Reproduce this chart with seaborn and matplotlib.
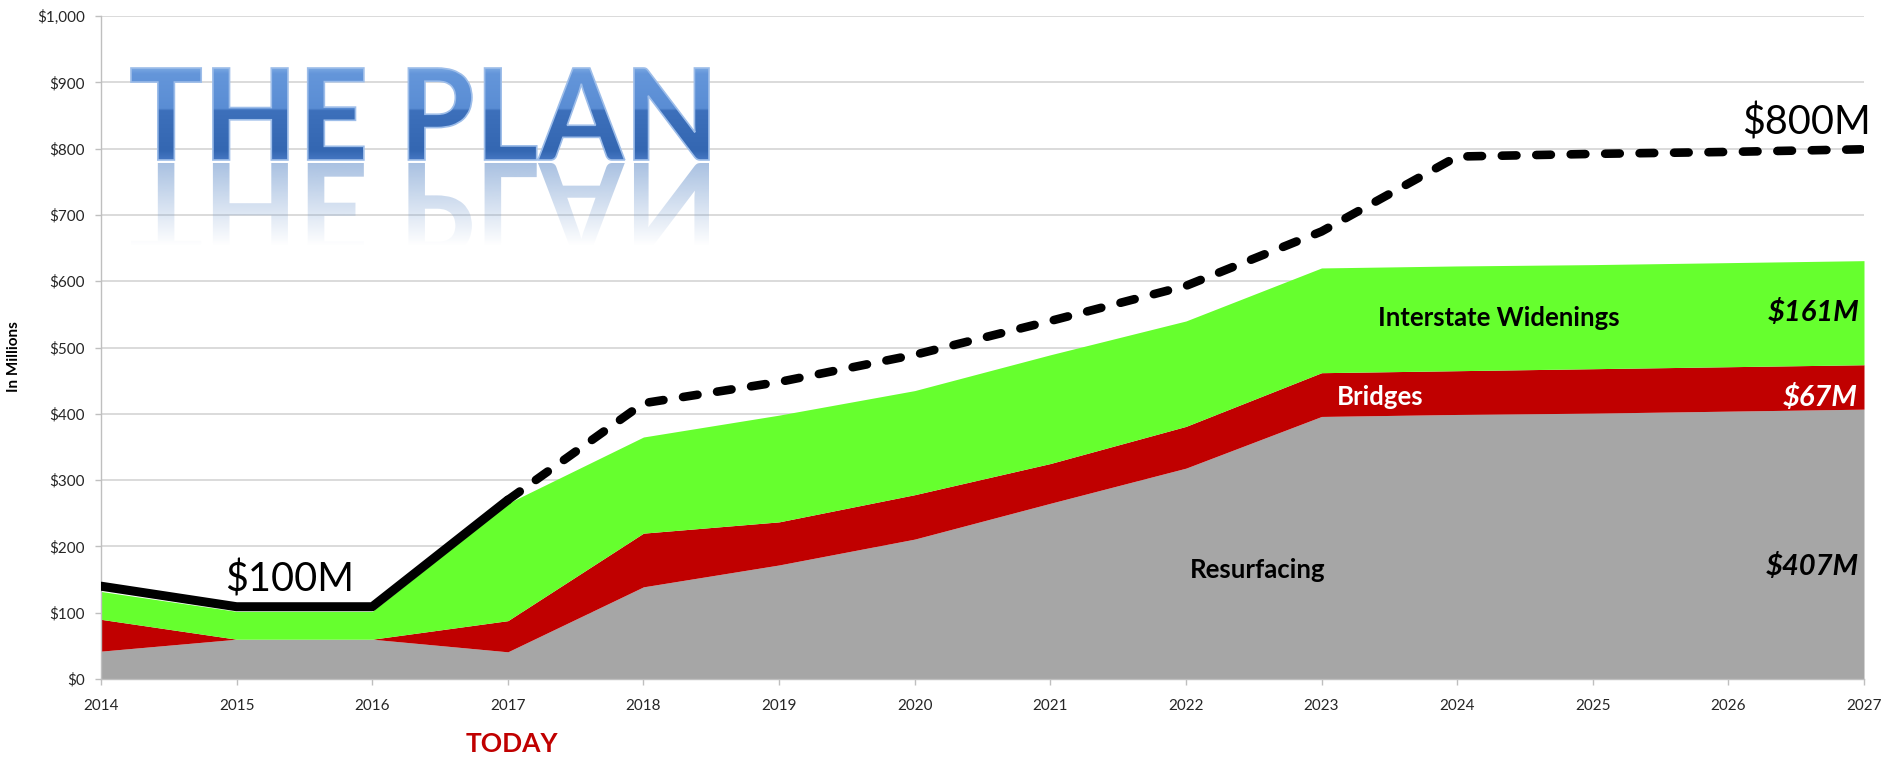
import numpy as np
import pandas as pd
import matplotlib
matplotlib.use("Agg")
import matplotlib.pyplot as plt
import seaborn as sns
from matplotlib.textpath import TextPath
from matplotlib.font_manager import FontProperties
from matplotlib.patches import PathPatch
from matplotlib.transforms import Affine2D
from matplotlib.colors import to_rgb
from matplotlib.ticker import FuncFormatter

# ---------------- data (in $ millions) ----------------
years = list(range(2014, 2028))
resurfacing = [42, 60, 60, 41, 139, 172, 211, 265, 318, 396, 399, 401, 404, 407]
bridges = [48, 0, 0, 47, 81, 65, 67, 60, 63, 66, 66, 67, 67, 67]
widenings = [42, 42, 42, 177, 145, 161, 157, 164, 159, 158, 158, 157, 157, 157]
total_plan = [140, 109, 109, 270, 416, 448, 489, 540, 593, 675, 788, 792, 795, 799]
y_ticks = list(range(0, 1001, 100))

series_names = ["Resurfacing", "Bridges", "Interstate Widenings"]
series_colors = ["#A6A6A6", "#C00000", "#66FF2E"]

df = pd.DataFrame({"year": years, "total": total_plan})
df_actual = df.iloc[:4]
df_planned = df.iloc[3:]

# ---------------- style ----------------
sns.set_theme(style="white")
plt.rcParams["font.family"] = ["Lato", "DejaVu Sans"]

W, H = 1883, 762
fig = plt.figure(figsize=(W / 100, H / 100), dpi=100)
L, R, T, B = 101, 1864, 16, 679
ax = fig.add_axes([L / W, 1 - B / H, (R - L) / W, (B - T) / H])

ax.stackplot(years, resurfacing, bridges, widenings,
             colors=series_colors, labels=series_names, linewidth=0, zorder=2)

sns.lineplot(data=df_actual, x="year", y="total", ax=ax, color="black",
             linewidth=6.5, solid_capstyle="round", solid_joinstyle="round",
             zorder=4, legend=False)
sns.lineplot(data=df_planned, x="year", y="total", ax=ax, color="black",
             linewidth=6.2, zorder=4, legend=False)
dash_line = ax.get_lines()[-1]
dash_line.set_dashes((1.7, 2.3))
dash_line.set_dash_capstyle("round")
dash_line.set_dash_joinstyle("round")

ax.set_xlim(2014, 2027)
ax.set_ylim(0, 1000)
ax.set_xticks(years)
ax.set_yticks(y_ticks)
ax.yaxis.set_major_formatter(FuncFormatter(lambda v, p: f"${v:,.0f}"))
ax.set_xlabel("")
ax.set_ylabel("")
ax.grid(axis="y", color="#D4D4D4", linewidth=1.2)
ax.grid(axis="x", visible=False)
ax.set_axisbelow(True)
for s in ["top", "right"]:
    ax.spines[s].set_visible(False)
for s in ["left", "bottom"]:
    ax.spines[s].set_color("#BFBFBF")
    ax.spines[s].set_linewidth(1.0)
ax.tick_params(axis="x", bottom=True, length=4.5, width=1, color="#BFBFBF",
               pad=10, labelsize=11, labelcolor="#262626")
ax.tick_params(axis="y", left=True, length=4.5, width=1, color="#BFBFBF",
               pad=7, labelsize=11, labelcolor="#262626")

# ---------------- annotations ----------------
ax.text(2015.39, 150, "$100M", fontsize=28.5, ha="center", va="center", color="black", zorder=6)
ax.text(2027.05, 840, "$800M", fontsize=28.5, ha="right", va="center", color="black",
        zorder=6, clip_on=False)
ax.text(2024.31, 544, "Interstate Widenings", fontsize=18.5, fontweight="bold",
        ha="center", va="center", color="black", zorder=6)
ax.text(2023.43, 425, "Bridges", fontsize=18.5, fontweight="bold",
        ha="center", va="center", color="white", zorder=6)
ax.text(2022.53, 164, "Resurfacing", fontsize=18.5, fontweight="bold",
        ha="center", va="center", color="black", zorder=6)
ax.text(2026.97, 553, "$161M", fontsize=21, fontweight="bold", fontstyle="italic",
        ha="right", va="center", color="black", zorder=6)
ax.text(2026.95, 424, "$67M", fontsize=21, fontweight="bold", fontstyle="italic",
        ha="right", va="center", color="white", zorder=6)
ax.text(2026.96, 170, "$407M", fontsize=21, fontweight="bold", fontstyle="italic",
        ha="right", va="center", color="black", zorder=6)
ax.text(2017.03, -98, "TODAY", fontsize=19, fontweight="bold", ha="center",
        va="center", color="#C00000", clip_on=False, zorder=6)
fig.text(14 / W, 1 - 357 / H, "In Millions", rotation=90, fontsize=11,
         fontweight="bold", ha="center", va="center", color="black")

# ---------------- "THE PLAN" title with gradient and reflection ----------------
ov = fig.add_axes([0, 0, 1, 1], zorder=10)
ov.set_xlim(0, W)
ov.set_ylim(H, 0)
ov.axis("off")
ov.patch.set_alpha(0)

tp = TextPath((0, 0), "THE PLAN", size=100,
              prop=FontProperties(family="Lato", weight="bold"))
bb = tp.get_extents()
x0, x1, ytop, ybase = 131, 709, 68, 160
sx = (x1 - x0) / bb.width
sy = (ybase - ytop) / bb.height
main_tr = Affine2D().translate(-bb.x0, -bb.y0).scale(sx, -sy).translate(x0, ybase)
refl_gap = 3
refl_tr = Affine2D().translate(-bb.x0, -bb.y0).scale(sx, sy).translate(x0, ybase + refl_gap)

main_path = main_tr.transform_path(tp)
refl_path = refl_tr.transform_path(tp)

n = 200
pos = np.linspace(0, 1, n)
stops = [(0.0, "#79A7E2"), (0.06, "#6496DA"), (0.44, "#5A8DD4"),
         (0.46, "#3D70BB"), (0.9, "#3467B2"), (1.0, "#4677C2")]
grad = np.zeros((n, 1, 4))
for ch in range(3):
    grad[:, 0, ch] = np.interp(pos, [s[0] for s in stops], [to_rgb(s[1])[ch] for s in stops])
grad[:, 0, 3] = 1.0

main_patch = PathPatch(main_path, facecolor="none", edgecolor="#9DBDE9", linewidth=1.2, zorder=3)
ov.add_patch(main_patch)
im = ov.imshow(grad, extent=(x0, x1, ybase, ytop), aspect="auto",
               interpolation="bilinear", origin="upper", zorder=2)
im.set_clip_path(main_patch)

# reflection
rh = ybase - ytop
rgrad = np.zeros((n, 1, 4))
rc = to_rgb("#7098CE")
for ch in range(3):
    rgrad[:, 0, ch] = rc[ch]
rgrad[:, 0, 3] = np.clip(0.6 * (1 - pos / 0.9), 0, 1)
refl_patch = PathPatch(refl_path, facecolor="none", edgecolor="none", zorder=1)
ov.add_patch(refl_patch)
rim = ov.imshow(rgrad, extent=(x0, x1, ybase + refl_gap + rh, ybase + refl_gap),
                aspect="auto", interpolation="bilinear", origin="upper", zorder=1)
rim.set_clip_path(refl_patch)
ov.set_xlim(0, W)
ov.set_ylim(H, 0)

fig.savefig("out.png", dpi=100)
